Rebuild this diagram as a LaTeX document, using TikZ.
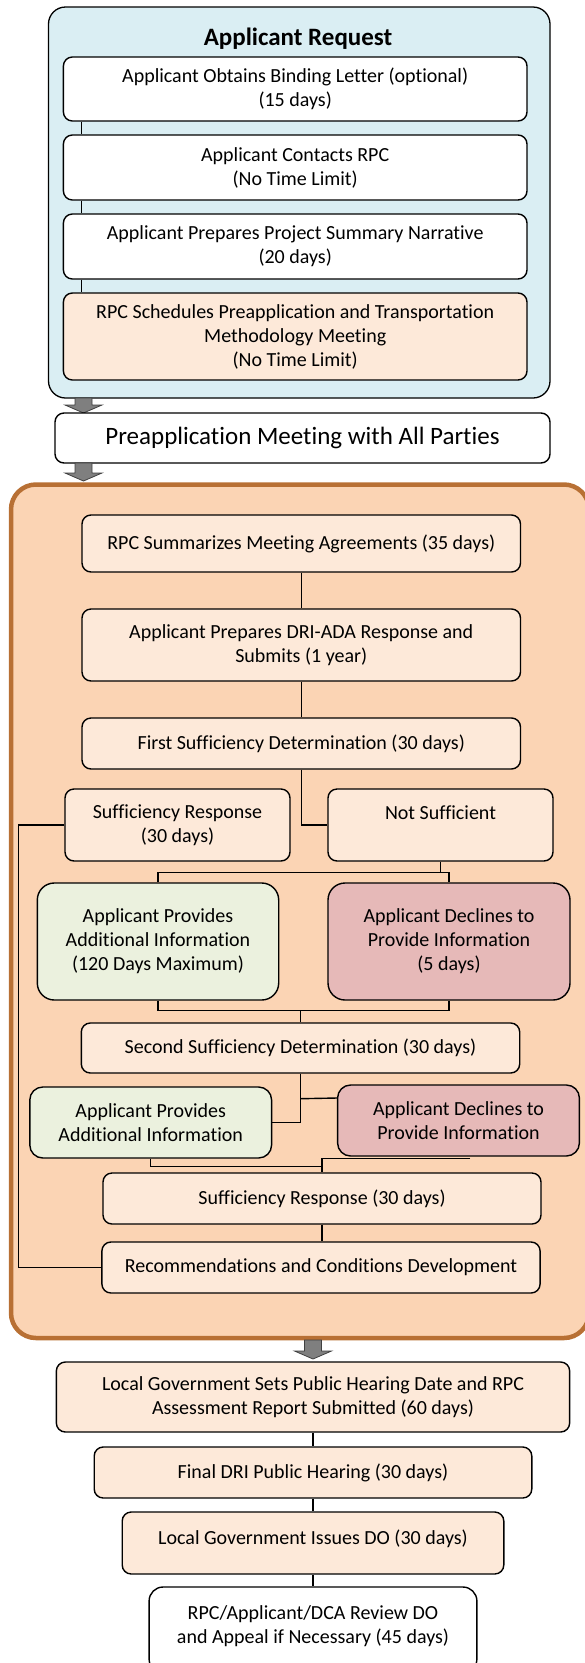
\documentclass[tikz,border=0pt]{standalone}
\usepackage{fontspec}
\setmainfont{Carlito}[Ligatures=NoCommon]
\usetikzlibrary{calc}
\definecolor{reqblue}{RGB}{218,238,243}
\definecolor{peach}{RGB}{253,233,217}
\definecolor{rpcfill}{RGB}{251,212,180}
\definecolor{rpcedge}{RGB}{184,112,52}
\definecolor{okgreen}{RGB}{235,241,222}
\definecolor{norose}{RGB}{230,185,184}
\definecolor{arrgray}{RGB}{127,127,127}
\tikzset{
  stepbox/.style={draw, line width=1.4pt, rounded corners=9pt, fill=peach, align=center,
                  inner sep=0pt, font=\fontsize{20}{24}\selectfont},
  wbox/.style={stepbox, fill=white},
  gbox/.style={stepbox, fill=okgreen},
  rbox/.style={stepbox, fill=norose},
  link/.style={line width=1.4pt},
  blkarr/.style={fill=arrgray, draw=black!75, line width=0.8pt},
}
% gray block arrow: x, top, tip
\newcommand{\blkarrow}[3]{%
  \filldraw[blkarr] ({#1-8.5},#2) -- ({#1+8.5},#2) -- ({#1+8.5},{#3-8}) -- ({#1+18.5},{#3-8})
    -- (#1,#3) -- ({#1-18.5},{#3-8}) -- ({#1-8.5},{#3-8}) -- cycle;}

\begin{document}
\begin{tikzpicture}[x=1pt, y=-1pt]
  \path[use as bounding box] (0,0) rectangle (585,1663);
  \clip (0,0) rectangle (585,1663);

  % applicant request
  \draw[fill=reqblue, line width=1.3pt, rounded corners=17pt] (48.5,7) rectangle (550,398);
  \node[font=\fontsize{25}{30}\selectfont\bfseries] (reqtitle) at (298,39) {Applicant Request};
  \node[wbox, minimum width=463.6pt, minimum height=64pt] (obtain) at (295.2,89)
       {Applicant Obtains Binding Letter (optional)\\(15 days)};
  \node[wbox, minimum width=463.6pt, minimum height=65pt] (contact) at (295.2,167.5)
       {Applicant Contacts RPC\\(No Time Limit)};
  \node[wbox, minimum width=463.6pt, minimum height=65pt] (narrative) at (295.2,246.5)
       {Applicant Prepares Project Summary Narrative\\(20 days)};
  \node[stepbox, minimum width=463.6pt, minimum height=87pt] (schedule) at (295.2,336.5)
       {RPC Schedules Preapplication and Transportation\\Methodology Meeting\\(No Time Limit)};
  \draw[link] ([xshift=18.6pt]obtain.south west) -- ([xshift=18.6pt]contact.north west);
  \draw[link] ([xshift=18.6pt]contact.south west) -- ([xshift=18.6pt]narrative.north west);
  \draw[link] ([xshift=18.6pt]narrative.south west) -- ([xshift=18.6pt]schedule.north west);

  \blkarrow{83.5}{398}{413}
  \node[wbox, minimum width=495pt, minimum height=50pt, font=\fontsize{25}{30}\selectfont]
       (premeet) at (302.5,438) {Preapplication Meeting with All Parties};
  \blkarrow{83.5}{463}{481}

  % DRI-ADA review
  \draw[fill=rpcfill, draw=rpcedge, line width=4.5pt, rounded corners=25pt] (11,484.5) rectangle (589,1338);
  \node[stepbox, minimum width=438.5pt, minimum height=57pt] (summ) at (301.25,543.5)
       {RPC Summarizes Meeting Agreements (35 days)};
  \node[stepbox, minimum width=438.5pt, minimum height=72pt] (dri) at (301.25,645)
       {Applicant Prepares DRI-ADA Response and\\Submits (1 year)};
  \node[stepbox, minimum width=438.5pt, minimum height=51pt] (suff1) at (301.25,743.5)
       {First Sufficiency Determination (30 days)};
  \node[stepbox, minimum width=225pt, minimum height=72pt] (resp1) at (177.5,825)
       {Sufficiency Response\\(30 days)};
  \node[stepbox, minimum width=225pt, minimum height=72pt] (notsuff) at (440.5,825)
       {Not Sufficient\\\mbox{}};
  \node[gbox, rounded corners=17pt, minimum width=241.4pt, minimum height=117pt] (prov1) at (158,941.5)
       {Applicant Provides\\Additional Information\\(120 Days Maximum)};
  \node[rbox, rounded corners=17pt, minimum width=242pt, minimum height=117pt] (decl1) at (449,941.5)
       {Applicant Declines to\\Provide Information\\(5 days)};
  \node[stepbox, minimum width=438.4pt, minimum height=50pt] (suff2) at (300.5,1048)
       {Second Sufficiency Determination (30 days)};
  \node[gbox, rounded corners=13pt, minimum width=241.8pt, minimum height=71pt] (prov2) at (150.7,1122.5)
       {Applicant Provides\\Additional Information};
  \node[rbox, rounded corners=13pt, minimum width=241.8pt, minimum height=71pt] (decl2) at (458.5,1120.5)
       {Applicant Declines to\\Provide Information};
  \node[stepbox, minimum width=438pt, minimum height=51pt] (resp2) at (322,1198.5)
       {Sufficiency Response (30 days)};
  \node[stepbox, minimum width=438.2pt, minimum height=51pt] (recom) at (321,1267.5)
       {Recommendations and Conditions Development};

  \draw[link] (summ) -- (dri);
  \draw[link] (dri) -- (suff1);
  \draw[link] (suff1.south) |- (notsuff.west);
  \draw[link] (resp1.west) -- ++(-45.6,0) |- (recom.west);
  \coordinate (split) at ($(notsuff.south)+(0,11)$);
  \draw[link] (notsuff.south) -- (split);
  \draw[link] (prov1.north) |- (split) -| (decl1.north);
  \coordinate (merge) at ($(suff2.north)+(0,-12)$);
  \draw[link] (prov1.south) |- (merge) -| (decl1.south);
  \draw[link] (merge) -- (suff2.north);
  \draw[link] (suff2.south) |- (prov2.east);
  \draw[link] ($(suff2.south)+(0,25)$) -- ([yshift=22.5pt]decl2.west);
  \draw[link] (prov2.south) |- ([yshift=6pt]resp2.north);
  \draw[link] ([xshift=11.5pt,yshift=-2pt]decl2.south) -| (resp2.north);
  \draw[link] (resp2.south) -- (resp2.south |- recom.north);

  % hearing and order
  \blkarrow{313}{1340}{1359}
  \node[stepbox, minimum width=513.3pt, minimum height=70pt] (hearset) at (313,1397)
       {Local Government Sets Public Hearing Date and RPC\\Assessment Report Submitted (60 days)};
  \node[stepbox, minimum width=437.6pt, minimum height=51pt] (hearing) at (313,1472.5)
       {Final DRI Public Hearing (30 days)};
  \node[stepbox, minimum width=381.6pt, minimum height=62pt] (issue) at (313,1543)
       {Local Government Issues DO (30 days)\\[-12pt]\mbox{}};
  \node[wbox, rounded corners=14pt, minimum width=327.8pt, minimum height=86pt] (review) at (313,1630)
       {RPC/Applicant/DCA Review DO\\and Appeal if Necessary (45 days)\\[-14pt]\mbox{}};
  \draw[link] (hearset) -- (hearing);
  \draw[link] (hearing) -- (issue);
  \draw[link] (issue) -- (review);
\end{tikzpicture}
\end{document}
